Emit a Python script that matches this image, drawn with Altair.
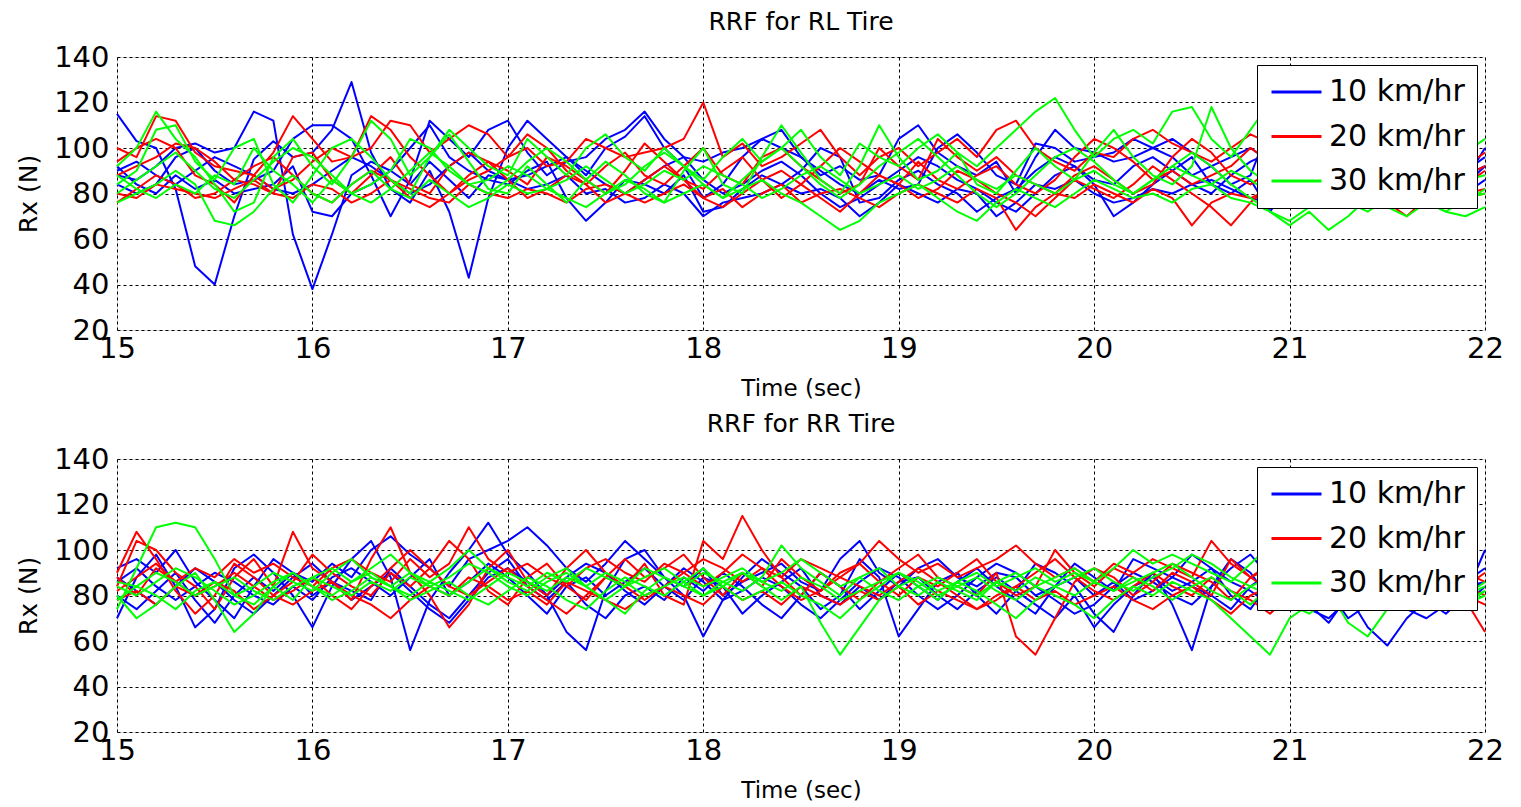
import altair as alt
import pandas as pd

FONT = "DejaVu Sans"

TIME = [15.0, 15.1, 15.2, 15.3, 15.4, 15.5, 15.6, 15.7, 15.8, 15.9,
        16.0, 16.1, 16.2, 16.3, 16.4, 16.5, 16.6, 16.7, 16.8, 16.9,
        17.0, 17.1, 17.2, 17.3, 17.4, 17.5, 17.6, 17.7, 17.8, 17.9,
        18.0, 18.1, 18.2, 18.3, 18.4, 18.5, 18.6, 18.7, 18.8, 18.9,
        19.0, 19.1, 19.2, 19.3, 19.4, 19.5, 19.6, 19.7, 19.8, 19.9,
        20.0, 20.1, 20.2, 20.3, 20.4, 20.5, 20.6, 20.7, 20.8, 20.9,
        21.0, 21.1, 21.2, 21.3, 21.4, 21.5, 21.6, 21.7, 21.8, 21.9,
        22.0]

SPEEDS = ["10 km/hr", "20 km/hr", "30 km/hr"]
COLORS = ["#0000ff", "#ff0000", "#00ff00"]
X_TICKS = [15, 16, 17, 18, 19, 20, 21, 22]
Y_TICKS = [20, 40, 60, 80, 100, 120, 140]

# ---------------- RL tire ----------------
RL_10_A = [115, 103, 100, 82, 48, 40, 70, 95, 103, 96, 98, 108, 129, 98, 82, 76, 90, 72, 43, 78,
           100, 112, 104, 96, 88, 100, 105, 114, 100, 92, 78, 84, 96, 104, 100, 96, 90, 84, 80, 86,
           82, 84, 100, 106, 98, 88, 84, 102, 100, 94, 96, 98, 104, 100, 96, 88, 92, 84, 88, 110,
           96, 88, 82, 86, 84, 88, 80, 76, 82, 86, 100]
RL_10_B = [88, 86, 92, 100, 102, 98, 100, 116, 112, 62, 38, 62, 88, 94, 90, 100, 110, 96, 90, 86,
           84, 90, 94, 78, 68, 76, 86, 84, 80, 88, 72, 74, 82, 88, 84, 90, 100, 96, 76, 78,
           86, 90, 84, 80, 72, 78, 82, 90, 96, 92, 84, 70, 76, 84, 90, 96, 84, 80, 86, 72,
           84, 80, 74, 80, 86, 78, 84, 90, 80, 84, 92]
RL_10_C = [84, 80, 84, 96, 100, 90, 84, 86, 90, 104, 110, 110, 104, 88, 70, 86, 112, 104, 96, 108,
           112, 98, 88, 94, 96, 104, 108, 116, 104, 96, 94, 98, 100, 104, 108, 96, 88, 92, 86, 88,
           104, 110, 98, 92, 88, 94, 80, 96, 108, 100, 98, 94, 96, 100, 104, 98, 92, 96, 100, 94,
           90, 86, 84, 90, 82, 86, 80, 84, 88, 90, 96]
RL_10_D = [92, 84, 80, 88, 82, 86, 80, 82, 84, 92, 72, 70, 80, 84, 90, 84, 94, 86, 78, 88,
           86, 82, 84, 88, 80, 82, 76, 78, 84, 80, 70, 76, 78, 80, 84, 80, 82, 78, 70, 76,
           84, 80, 76, 82, 80, 70, 76, 84, 82, 86, 80, 76, 78, 82, 80, 84, 86, 82, 78, 76,
           82, 80, 78, 84, 74, 80, 76, 78, 84, 80, 86]
RL_10_E = [90, 94, 88, 84, 90, 96, 92, 88, 82, 80, 84, 90, 96, 92, 86, 80, 84, 92, 98, 90,
           86, 88, 92, 96, 90, 84, 80, 86, 92, 96, 86, 80, 84, 90, 94, 88, 80, 74, 78, 84,
           90, 96, 92, 86, 82, 76, 72, 80, 88, 92, 86, 84, 92, 96, 90, 84, 80, 88, 94, 98,
           92, 86, 82, 88, 92, 86, 82, 78, 84, 88, 92]

RL_20_A = [100, 96, 114, 112, 98, 92, 90, 88, 98, 114, 104, 94, 96, 100, 112, 110, 98, 104, 110, 106,
           96, 100, 92, 94, 104, 100, 96, 98, 100, 104, 120, 96, 102, 92, 96, 102, 108, 96, 88, 96,
           100, 92, 98, 104, 96, 108, 112, 100, 94, 90, 98, 96, 104, 108, 102, 98, 94, 100, 106, 102,
           96, 92, 88, 90, 94, 86, 90, 88, 84, 92, 98]
RL_20_B = [88, 92, 96, 102, 100, 94, 86, 84, 80, 96, 98, 86, 80, 88, 96, 84, 80, 92, 98, 94,
           90, 84, 96, 92, 86, 80, 90, 102, 94, 86, 82, 90, 96, 86, 78, 84, 92, 100, 94, 88,
           84, 94, 86, 82, 88, 92, 84, 80, 86, 96, 104, 100, 94, 86, 90, 84, 88, 92, 100, 94,
           88, 84, 86, 92, 88, 84, 86, 90, 82, 88, 92]
RL_20_C = [80, 78, 84, 82, 80, 78, 82, 86, 80, 78, 84, 82, 76, 80, 86, 82, 78, 76, 84, 80,
           78, 82, 80, 76, 82, 84, 80, 76, 80, 84, 78, 82, 74, 80, 84, 76, 80, 82, 78, 74,
           80, 84, 80, 76, 82, 78, 64, 74, 80, 78, 84, 80, 76, 82, 78, 66, 76, 80, 78, 82,
           76, 80, 74, 78, 82, 76, 70, 78, 74, 80, 82]
RL_20_D = [94, 100, 104, 100, 88, 84, 76, 88, 82, 86, 94, 100, 96, 114, 108, 96, 88, 80, 86, 90,
           96, 106, 100, 90, 84, 92, 98, 88, 84, 92, 100, 88, 84, 96, 100, 92, 86, 80, 84, 100,
           92, 86, 104, 96, 90, 96, 88, 84, 80, 88, 92, 86, 80, 84, 96, 104, 98, 88, 84, 90,
           94, 90, 82, 86, 92, 88, 82, 80, 86, 84, 90]
RL_20_E = [76, 82, 88, 84, 78, 80, 86, 92, 96, 88, 80, 76, 84, 90, 86, 78, 74, 80, 88, 94,
           86, 78, 82, 88, 84, 76, 80, 86, 92, 86, 78, 74, 80, 86, 90, 84, 78, 72, 80, 88,
           84, 78, 82, 90, 86, 80, 76, 70, 78, 86, 82, 78, 84, 92, 86, 80, 74, 66, 76, 84,
           80, 76, 82, 88, 84, 78, 74, 80, 84, 78, 80]

RL_30_A = [92, 100, 116, 104, 96, 84, 72, 76, 96, 104, 92, 84, 96, 112, 104, 88, 96, 108, 100, 92,
           88, 104, 96, 88, 100, 106, 96, 90, 100, 92, 86, 96, 104, 94, 100, 108, 96, 88, 102, 96,
           92, 100, 106, 98, 92, 100, 108, 116, 122, 108, 96, 104, 108, 102, 116, 118, 104, 96, 108, 120,
           98, 90, 86, 92, 96, 100, 92, 88, 94, 98, 104]
RL_30_B = [84, 90, 108, 110, 94, 86, 100, 104, 84, 76, 88, 100, 104, 96, 86, 80, 96, 106, 94, 82,
           80, 92, 84, 76, 86, 94, 88, 80, 76, 90, 100, 84, 80, 96, 110, 98, 86, 80, 92, 110,
           96, 86, 90, 98, 84, 80, 90, 100, 92, 86, 98, 108, 96, 88, 84, 92, 118, 100, 90, 84,
           78, 82, 74, 80, 76, 82, 78, 84, 80, 76, 82]
RL_30_C = [76, 80, 84, 90, 84, 68, 66, 72, 82, 88, 80, 76, 84, 90, 82, 78, 86, 80, 74, 78,
           84, 80, 82, 78, 74, 80, 86, 82, 76, 80, 84, 78, 82, 86, 80, 76, 70, 64, 68, 76,
           80, 84, 78, 72, 68, 76, 82, 78, 74, 80, 86, 82, 78, 80, 76, 82, 84, 78, 76, 72,
           66, 72, 64, 70, 78, 74, 70, 76, 72, 70, 74]
RL_30_D = [88, 82, 78, 84, 80, 88, 84, 100, 90, 84, 76, 86, 80, 84, 90, 104, 100, 90, 84, 86,
           92, 88, 82, 86, 92, 86, 80, 84, 90, 86, 92, 88, 84, 78, 82, 88, 92, 86, 80, 84,
           88, 82, 86, 92, 86, 82, 88, 84, 80, 86, 90, 84, 80, 86, 92, 88, 84, 90, 86, 80,
           74, 80, 76, 82, 78, 80, 84, 78, 82, 86, 88]
RL_30_E = [80, 86, 92, 98, 90, 82, 78, 86, 94, 100, 96, 88, 80, 76, 82, 90, 98, 92, 84, 80,
           86, 94, 100, 94, 86, 80, 84, 92, 98, 92, 84, 78, 86, 94, 100, 92, 84, 78, 84, 92,
           98, 104, 96, 88, 80, 74, 80, 88, 96, 100, 94, 86, 80, 86, 92, 98, 92, 84, 78, 72,
           68, 74, 80, 76, 72, 78, 82, 76, 72, 78, 80]

# ---------------- RR tire ----------------
RR_10_A = [70, 88, 98, 84, 66, 74, 92, 98, 90, 80, 66, 84, 96, 104, 88, 56, 78, 90, 100, 112,
           98, 90, 80, 64, 56, 82, 96, 100, 88, 80, 62, 78, 88, 96, 90, 84, 74, 80, 96, 88,
           62, 74, 86, 90, 80, 72, 82, 94, 90, 84, 72, 64, 80, 90, 76, 56, 84, 96, 90, 78,
           84, 76, 68, 80, 66, 58, 70, 78, 72, 80, 100]
RR_10_B = [92, 96, 90, 100, 86, 78, 70, 84, 96, 90, 86, 94, 88, 100, 106, 98, 92, 84, 96, 100,
           104, 110, 102, 92, 86, 94, 104, 96, 88, 84, 92, 80, 86, 90, 94, 86, 82, 96, 104, 90,
           84, 92, 96, 88, 84, 90, 88, 80, 84, 94, 88, 82, 96, 92, 88, 98, 92, 86, 82, 76,
           84, 90, 86, 92, 84, 80, 88, 84, 78, 86, 92]
RR_10_C = [86, 92, 84, 78, 84, 90, 86, 80, 76, 84, 78, 88, 92, 86, 80, 88, 96, 80, 86, 94,
           88, 80, 72, 84, 88, 80, 86, 92, 84, 78, 88, 84, 72, 80, 86, 92, 80, 76, 84, 78,
           86, 88, 80, 74, 82, 88, 82, 76, 70, 80, 66, 76, 84, 88, 82, 86, 92, 80, 74, 86,
           80, 74, 82, 70, 76, 82, 78, 74, 80, 76, 84]
RR_10_D = [80, 74, 82, 90, 78, 68, 80, 88, 82, 90, 80, 86, 82, 78, 92, 84, 76, 70, 80, 90,
           96, 84, 78, 86, 76, 70, 80, 84, 78, 88, 82, 90, 84, 76, 70, 80, 90, 84, 74, 82,
           90, 84, 78, 86, 92, 84, 78, 72, 84, 88, 80, 86, 78, 82, 88, 84, 80, 74, 84, 90,
           82, 84, 78, 86, 80, 74, 82, 86, 80, 84, 86]
RR_10_E = [88, 82, 76, 84, 92, 86, 78, 72, 80, 88, 94, 86, 78, 84, 90, 82, 74, 68, 78, 88,
           92, 86, 80, 88, 94, 90, 82, 76, 84, 92, 86, 78, 82, 88, 84, 76, 70, 78, 86, 92,
           88, 80, 74, 80, 88, 94, 90, 84, 78, 72, 76, 84, 90, 86, 80, 76, 84, 92, 98, 88,
           80, 74, 70, 78, 84, 80, 74, 70, 76, 82, 86]

RR_20_A = [84, 104, 100, 90, 84, 74, 88, 96, 84, 108, 92, 86, 78, 96, 110, 90, 80, 66, 76, 92,
           100, 86, 80, 92, 100, 90, 84, 94, 80, 76, 104, 96, 115, 100, 88, 80, 90, 84, 78, 86,
           92, 98, 88, 84, 80, 90, 62, 54, 70, 86, 92, 88, 80, 86, 94, 90, 86, 78, 88, 94,
           86, 80, 84, 88, 82, 76, 80, 86, 82, 78, 64]
RR_20_B = [90, 108, 96, 82, 72, 80, 94, 88, 80, 86, 98, 90, 84, 80, 90, 84, 92, 104, 96, 82,
           76, 88, 94, 84, 78, 88, 96, 88, 92, 98, 88, 80, 90, 84, 96, 88, 82, 90, 94, 86,
           80, 88, 84, 90, 96, 86, 80, 84, 100, 90, 84, 92, 88, 82, 90, 86, 80, 96, 88, 82,
           90, 86, 80, 84, 88, 82, 86, 80, 84, 90, 86]
RR_20_C = [78, 82, 76, 84, 80, 86, 82, 74, 80, 76, 82, 86, 80, 76, 70, 78, 84, 80, 88, 84,
           78, 82, 76, 86, 82, 78, 74, 80, 84, 80, 76, 84, 78, 82, 76, 84, 80, 76, 82, 78,
           84, 76, 82, 78, 74, 80, 84, 78, 82, 76, 80, 84, 78, 74, 80, 84, 78, 72, 80, 84,
           78, 82, 76, 80, 84, 78, 76, 82, 78, 80, 76]
RR_20_D = [88, 80, 92, 86, 92, 88, 96, 90, 94, 88, 84, 92, 96, 90, 86, 96, 88, 94, 110, 96,
           90, 94, 88, 84, 92, 96, 90, 86, 94, 90, 96, 92, 86, 92, 88, 96, 92, 88, 94, 104,
           96, 90, 94, 88, 92, 96, 102, 94, 88, 92, 86, 94, 90, 96, 92, 88, 104, 94, 88, 92,
           86, 90, 94, 88, 84, 90, 86, 92, 88, 84, 90]
RR_20_E = [82, 88, 94, 86, 80, 84, 90, 84, 78, 82, 88, 80, 74, 84, 92, 100, 92, 84, 80, 86,
           92, 84, 78, 72, 80, 88, 84, 78, 84, 90, 84, 90, 98, 92, 84, 78, 82, 88, 84, 80,
           86, 92, 86, 80, 74, 78, 84, 90, 96, 88, 82, 78, 84, 90, 84, 80, 88, 82, 78, 72,
           80, 88, 84, 90, 86, 80, 76, 82, 88, 84, 80]

RR_30_A = [74, 92, 110, 112, 110, 96, 80, 84, 90, 86, 82, 90, 96, 88, 84, 90, 86, 92, 100, 92,
           88, 84, 90, 86, 92, 88, 84, 92, 88, 84, 90, 86, 82, 88, 102, 92, 86, 80, 88, 92,
           84, 88, 82, 86, 90, 84, 88, 92, 86, 90, 86, 92, 100, 94, 98, 94, 90, 86, 94, 102,
           90, 86, 80, 84, 90, 86, 82, 88, 84, 80, 86]
RR_30_B = [80, 70, 76, 84, 90, 78, 64, 72, 84, 78, 88, 84, 80, 86, 82, 88, 84, 80, 86, 92,
           86, 82, 88, 92, 84, 78, 72, 82, 88, 84, 80, 86, 90, 84, 78, 84, 68, 54, 66, 78,
           84, 80, 86, 82, 78, 86, 90, 84, 80, 76, 70, 78, 84, 80, 86, 82, 78, 70, 62, 54,
           70, 76, 82, 68, 62, 74, 78, 74, 80, 76, 80]
RR_30_C = [86, 84, 90, 86, 80, 84, 88, 82, 78, 84, 88, 92, 86, 90, 84, 80, 86, 82, 78, 84,
           90, 86, 82, 88, 84, 90, 86, 80, 84, 88, 84, 88, 92, 86, 90, 96, 90, 84, 88, 82,
           78, 84, 88, 84, 80, 86, 82, 88, 84, 88, 92, 86, 82, 88, 92, 98, 94, 88, 84, 80,
           76, 72, 78, 74, 80, 76, 80, 76, 80, 78, 82]
RR_30_D = [78, 84, 80, 74, 82, 86, 80, 76, 84, 90, 84, 78, 82, 88, 84, 78, 82, 86, 80, 76,
           82, 88, 84, 78, 74, 82, 88, 84, 80, 86, 92, 84, 78, 82, 86, 80, 76, 70, 78, 84,
           90, 84, 78, 86, 82, 76, 70, 78, 84, 80, 86, 82, 88, 84, 78, 84, 88, 82, 76, 84,
           80, 86, 82, 78, 84, 80, 76, 82, 86, 80, 84]
RR_30_E = [84, 80, 86, 92, 88, 82, 76, 80, 86, 90, 84, 80, 86, 92, 98, 90, 84, 88, 94, 90,
           84, 80, 86, 90, 84, 78, 84, 88, 92, 86, 80, 84, 90, 86, 82, 88, 84, 78, 82, 86,
           90, 86, 80, 84, 88, 82, 78, 84, 88, 92, 86, 82, 86, 90, 94, 88, 82, 78, 84, 88,
           84, 80, 76, 82, 86, 82, 78, 84, 80, 76, 82]

RL_RUNS = [("10 km/hr", [RL_10_A, RL_10_B, RL_10_C, RL_10_D, RL_10_E]),
           ("20 km/hr", [RL_20_A, RL_20_B, RL_20_C, RL_20_D, RL_20_E]),
           ("30 km/hr", [RL_30_A, RL_30_B, RL_30_C, RL_30_D, RL_30_E])]
RR_RUNS = [("10 km/hr", [RR_10_A, RR_10_B, RR_10_C, RR_10_D, RR_10_E]),
           ("20 km/hr", [RR_20_A, RR_20_B, RR_20_C, RR_20_D, RR_20_E]),
           ("30 km/hr", [RR_30_A, RR_30_B, RR_30_C, RR_30_D, RR_30_E])]


def build(runs):
    rows = []
    for speed, series_list in runs:
        for k, series in enumerate(series_list):
            for t, v in zip(TIME, series):
                rows.append({"t": t, "rx": v, "speed": speed, "run": f"{speed} #{k}"})
    return pd.DataFrame(rows)


def panel(df, title):
    return alt.Chart(
        df,
        title=alt.TitleParams(title, fontSize=25, font=FONT, fontWeight="normal",
                              color="black", offset=8, anchor="middle"),
    ).mark_line(strokeWidth=2, strokeJoin="round").encode(
        x=alt.X("t:Q",
                scale=alt.Scale(domain=[15, 22], nice=False, zero=False),
                axis=alt.Axis(title="Time (sec)", values=X_TICKS, format="d",
                              labelFlush=False, labelFontSize=29, labelFont=FONT,
                              labelColor="black", labelPadding=4, ticks=False,
                              domain=False, grid=True, gridDash=[3, 3], gridColor="black",
                              gridOpacity=1, gridWidth=1, titleFontSize=23, titleFont=FONT,
                              titleFontWeight="normal", titleColor="black", titlePadding=14)),
        y=alt.Y("rx:Q",
                scale=alt.Scale(domain=[20, 140], nice=False, zero=False),
                axis=alt.Axis(title="Rx (N)", values=Y_TICKS, format="d",
                              labelFontSize=29, labelFont=FONT, labelColor="black",
                              labelPadding=8, ticks=False, domain=False, grid=True,
                              gridDash=[3, 3], gridColor="black", gridOpacity=1, gridWidth=1,
                              titleFontSize=25, titleFont=FONT, titleFontWeight="normal",
                              titleColor="black", titlePadding=12)),
        color=alt.Color("speed:N", title=None,
                        scale=alt.Scale(domain=SPEEDS, range=COLORS),
                        legend=alt.Legend(orient="top-right", offset=8, strokeColor="black",
                                          fillColor="white", padding=12,
                                          symbolType="M-1,0L3,0", symbolSize=625,
                                          symbolStrokeWidth=3,
                                          labelFontSize=30, labelFont=FONT, labelColor="black",
                                          labelOffset=30, rowPadding=14.5, cornerRadius=0)),
        detail="run:N",
    ).properties(width=1368, height=273)


top = panel(build(RL_RUNS), "RRF for RL Tire")
bottom = panel(build(RR_RUNS), "RRF for RR Tire")

chart = alt.vconcat(top, bottom, spacing=10).resolve_scale(
    color="independent"
).resolve_legend(color="independent").properties(
    padding={"left": 16, "top": 9, "right": 10, "bottom": 2}
).configure_view(stroke="#333333", strokeWidth=1).configure(background="white")

chart.save("out.html", embed_options={"renderer": "svg", "actions": False})
